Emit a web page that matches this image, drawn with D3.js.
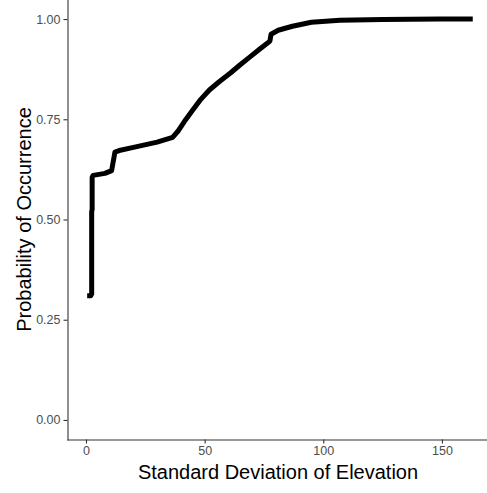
<!DOCTYPE html>
<html>
<head>
<meta charset="utf-8">
<script src="https://cdn.jsdelivr.net/npm/d3@7"></script>
<style>
  body { margin: 0; background: #fff; }
  text { font-family: "Liberation Sans", Arial, sans-serif; }
</style>
</head>
<body>
<div id="chart"></div>
<script>
// curve
var sdElev = [0.5, 2, 2.4, 2.4, 2.6, 2.6, 3, 8, 10.8, 11.5, 12.2, 14, 20, 30, 36.5, 39, 42, 45, 48, 52, 56, 61, 65, 69, 73, 76.5, 77.5, 78, 81, 87, 95, 107, 125, 149, 163];
var probOcc = [0.31, 0.31, 0.314, 0.52, 0.525, 0.605, 0.61, 0.615, 0.622, 0.645, 0.668, 0.672, 0.68, 0.693, 0.705, 0.722, 0.749, 0.773, 0.797, 0.823, 0.843, 0.866, 0.886, 0.905, 0.924, 0.94, 0.945, 0.962, 0.972, 0.982, 0.992, 0.997, 0.999, 1.0, 1.0];
var xTicks = [0, 50, 100, 150];
var yTicks = [0, 0.25, 0.5, 0.75, 1];

var width = 487, height = 493;
var svg = d3.select("#chart").append("svg")
    .attr("width", width)
    .attr("height", height);

var x = d3.scaleLinear().domain([-8, 169]).range([67, 487]);
var y = d3.scaleLinear().domain([-0.05, 1.05]).range([440, -1]);

// axes
var xAxis = svg.append("g")
    .attr("transform", "translate(0,439.5)")
    .call(d3.axisBottom(x).tickValues(xTicks).tickSize(4).tickSizeOuter(0).tickPadding(3).tickFormat(d3.format("d")));
var yAxis = svg.append("g")
    .attr("transform", "translate(67.5,0)")
    .call(d3.axisLeft(y).tickValues(yTicks).tickSize(4).tickSizeOuter(0).tickPadding(3).tickFormat(d3.format(".2f")));

[xAxis, yAxis].forEach(function(a) {
    a.select(".domain").attr("stroke", "#333").attr("stroke-width", 1.1);
    a.selectAll(".tick line").attr("stroke", "#333").attr("stroke-width", 1.1);
    a.selectAll(".tick text").attr("fill", "#4d4d4d").attr("font-size", "12.5px")
        .style("font-family", "'Liberation Sans', Arial, sans-serif");
});

// the line
var line = d3.line()
    .x(function(d, i) { return x(sdElev[i]); })
    .y(function(d) { return y(d); });

svg.append("path")
    .datum(probOcc)
    .attr("d", line)
    .attr("fill", "none")
    .attr("stroke", "#000")
    .attr("stroke-width", 5)
    .attr("stroke-linejoin", "round")
    .attr("stroke-linecap", "butt");

// titles
svg.append("text")
    .attr("x", 278).attr("y", 479)
    .attr("text-anchor", "middle")
    .attr("font-size", "20px")
    .text("Standard Deviation of Elevation");

svg.append("text")
    .attr("transform", "translate(31,219.5) rotate(-90)")
    .attr("text-anchor", "middle")
    .attr("font-size", "20px")
    .text("Probability of Occurrence");
</script>
</body>
</html>
